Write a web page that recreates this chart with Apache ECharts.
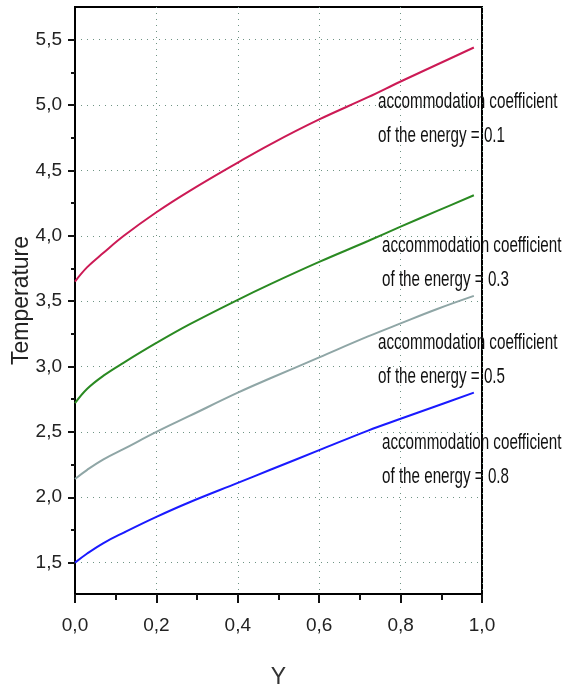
<!DOCTYPE html>
<html>
<head>
<meta charset="utf-8">
<style>
  html, body { margin: 0; padding: 0; background: #fff; }
  #chart { width: 565px; height: 695px; }
</style>
<script src="https://cdn.jsdelivr.net/npm/echarts@6.0.0/dist/echarts.min.js"></script>
</head>
<body>
<div id="chart"></div>
<script>
// values
const xValues = [0, 0.03, 0.07, 0.12, 0.2, 0.28, 0.4, 0.48, 0.6, 0.72, 0.8, 0.89, 0.98];
const temp01 = [3.65, 3.76, 3.87, 4.00, 4.18, 4.34, 4.56, 4.70, 4.89, 5.06, 5.18, 5.31, 5.44];
const temp03 = [2.72, 2.83, 2.93, 3.03, 3.18, 3.32, 3.51, 3.63, 3.80, 3.96, 4.07, 4.19, 4.31];
const temp05 = [2.14, 2.21, 2.29, 2.37, 2.50, 2.62, 2.80, 2.91, 3.07, 3.23, 3.33, 3.44, 3.54];
const temp08 = [1.50, 1.57, 1.65, 1.73, 1.85, 1.96, 2.11, 2.21, 2.36, 2.51, 2.60, 2.70, 2.80];

const yMajorTicks = [1.5, 2.0, 2.5, 3.0, 3.5, 4.0, 4.5, 5.0, 5.5];
const yMinorTicks = [1.75, 2.25, 2.75, 3.25, 3.75, 4.25, 4.75, 5.25];
const seriesLabels = [
  'accommodation coefficient\nof the energy = 0.1',
  'accommodation coefficient\nof the energy = 0.3',
  'accommodation coefficient\nof the energy = 0.5',
  'accommodation coefficient\nof the energy = 0.8'
];

const font = '"Liberation Sans", Arial, sans-serif';
const fmt = v => v.toFixed(1).replace('.', ',');
const pairs = arr => xValues.map((x, i) => [x, arr[i]]);

const chart = echarts.init(document.getElementById('chart'));

const lineSeries = (values, color) => ({
  type: 'line',
  data: pairs(values),
  smooth: 0.4,
  symbol: 'none',
  lineStyle: { color: color, width: 2 }
});

// label positions (left, top)
const labelPos = [[378, 85], [382, 229], [378, 326], [382, 426]];

chart.setOption({
  animation: false,
  backgroundColor: '#fff',
  grid: {
    left: 75, right: 83, top: 7, bottom: 101,
    outerBoundsMode: 'none',
    containLabel: false,
    show: true,
    borderColor: '#000',
    borderWidth: 2
  },
  xAxis: {
    type: 'value',
    min: 0,
    max: 1,
    interval: 0.2,
    name: 'Y',
    nameLocation: 'middle',
    nameGap: 72,
    nameMoveOverlap: false,
    nameTextStyle: { fontFamily: font, fontSize: 23, color: '#333' },
    axisLine: { lineStyle: { color: '#000', width: 2 } },
    axisTick: { length: 9, lineStyle: { color: '#111', width: 2 } },
    minorTick: { show: true, splitNumber: 2, length: 6, lineStyle: { color: '#111', width: 2 } },
    axisLabel: { formatter: fmt, fontFamily: font, fontSize: 19, color: '#222', margin: 22 },
    splitLine: { show: true, lineStyle: { color: '#6f9484', type: [1, 5], width: 1 } }
  },
  yAxis: [
    {
      type: 'value',
      min: 1.26,
      max: 5.75,
      name: 'Temperature',
      nameLocation: 'middle',
      nameGap: 42,
      nameMoveOverlap: false,
      nameTextStyle: { fontFamily: font, fontSize: 23, color: '#222' },
      axisLine: { show: true, lineStyle: { color: '#000', width: 2 } },
      axisTick: { customValues: yMajorTicks, length: 7, lineStyle: { color: '#111', width: 2 } },
      axisLabel: { customValues: yMajorTicks, formatter: fmt, fontFamily: font, fontSize: 19, color: '#222', margin: 13 },
      splitLine: { show: true, lineStyle: { color: '#6f9484', type: [1, 5], width: 1 } }
    },
    {
      type: 'value',
      position: 'left',
      min: 1.26,
      max: 5.75,
      axisLine: { show: false },
      axisTick: { show: true, customValues: yMinorTicks, length: 4, lineStyle: { color: '#111', width: 2 } },
      axisLabel: { show: false },
      splitLine: { show: false }
    }
  ],
  series: [
    lineSeries(temp01, '#cc1a55'),
    lineSeries(temp03, '#2a8a22'),
    lineSeries(temp05, '#8fa6a6'),
    lineSeries(temp08, '#1a1aff')
  ],
  graphic: seriesLabels.map((text, i) => ({
    type: 'text',
    x: labelPos[i][0],
    y: labelPos[i][1],
    scaleX: 0.69,
    z: 100,
    style: {
      text: text,
      fontFamily: font,
      fontSize: 22,
      lineHeight: 34,
      fill: '#111'
    }
  }))
});
</script>
</body>
</html>
